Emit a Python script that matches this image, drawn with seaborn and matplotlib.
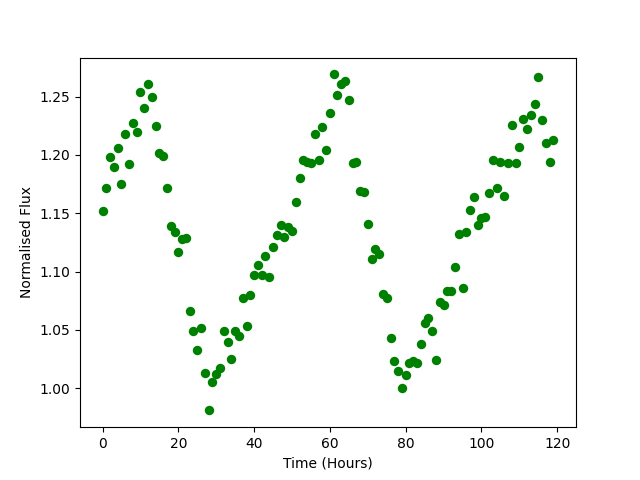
import matplotlib
matplotlib.use("Agg")
import matplotlib.pyplot as plt
import seaborn as sns
import numpy as np
import pandas as pd

hours = list(range(120))
flux = [
    1.152, 1.172, 1.198, 1.190, 1.206, 1.175, 1.218, 1.192, 1.227, 1.220,
    1.254, 1.240, 1.261, 1.250, 1.225, 1.202, 1.199, 1.172, 1.139, 1.134,
    1.117, 1.128, 1.129, 1.066, 1.049, 1.033, 1.052, 1.013, 0.981, 1.005,
    1.012, 1.017, 1.049, 1.040, 1.025, 1.049, 1.045, 1.077, 1.053, 1.080,
    1.097, 1.106, 1.097, 1.113, 1.095, 1.121, 1.131, 1.140, 1.130, 1.138,
    1.135, 1.160, 1.180, 1.196, 1.194, 1.193, 1.218, 1.196, 1.224, 1.204,
    1.236, 1.269, 1.251, 1.261, 1.263, 1.247, 1.193, 1.194, 1.169, 1.168,
    1.141, 1.111, 1.119, 1.115, 1.081, 1.077, 1.043, 1.023, 1.015, 1.000,
    1.011, 1.022, 1.023, 1.022, 1.038, 1.056, 1.060, 1.049, 1.024, 1.074,
    1.071, 1.083, 1.083, 1.104, 1.132, 1.086, 1.134, 1.153, 1.164, 1.140,
    1.146, 1.147, 1.167, 1.196, 1.172, 1.194, 1.165, 1.193, 1.226, 1.193,
    1.207, 1.231, 1.222, 1.234, 1.244, 1.267, 1.230, 1.210, 1.194, 1.213,
]

df = pd.DataFrame({"Time (Hours)": hours, "Normalised Flux": flux})

fig, ax = plt.subplots(figsize=(6.4, 4.8), dpi=100)
sns.scatterplot(data=df, x="Time (Hours)", y="Normalised Flux", ax=ax,
                color="green", s=46, linewidth=0, marker="o")
ax.set_xlabel("Time (Hours)")
ax.set_ylabel("Normalised Flux")
fig.savefig("out.png", dpi=100)
